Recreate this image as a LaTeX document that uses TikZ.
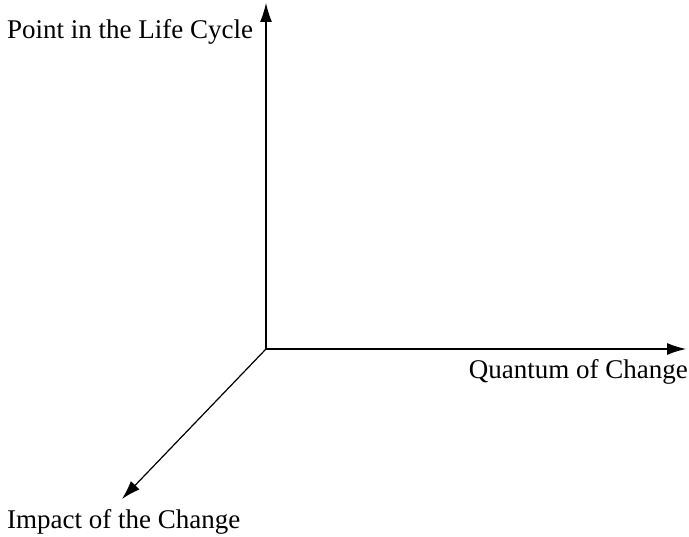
\documentclass[tikz,border=0pt]{standalone}
\usepackage{fontspec}
\setmainfont{Liberation Serif}
\usetikzlibrary{arrows.meta}
\begin{document}
\begin{tikzpicture}[x=1pt,y=-1pt,
  axis/.style={line width=1.2pt,-{Latex[length=19pt,width=12pt]}},
  lab/.style={font=\fontsize{27}{32}\selectfont,inner sep=0pt}]
\useasboundingbox (0,0) rectangle (689,537);
\coordinate (o) at (266,349);
\coordinate (up) at (266,3);
\coordinate (right) at (686,349);
\coordinate (diag) at (122,499);
\draw[axis] (o) -- (up);
\draw[axis] (o) -- (right);
\draw[axis] (o) -- (diag);
\node[lab,anchor=west] (l1) at (7,32) {Point in the Life Cycle};
\node[lab,anchor=east] (l2) at (688,372) {Quantum of Change};
\node[lab,anchor=west] (l3) at (7,522) {Impact of the Change};
\end{tikzpicture}
\end{document}
